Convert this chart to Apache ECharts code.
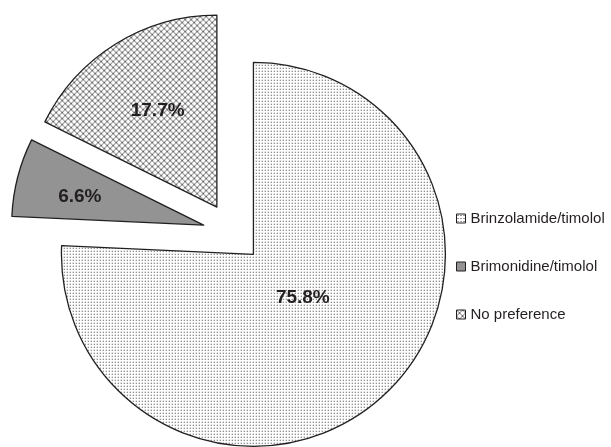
<!DOCTYPE html>
<html><head><meta charset="utf-8">
<script src="https://cdn.jsdelivr.net/npm/echarts@6/dist/echarts.min.js"></script>
<style>html,body{margin:0;padding:0;background:#fff}#c{width:611px;height:447px}</style>
</head><body><div id="c"></div>
<script>
const categories = ['Brinzolamide/timolol', 'Brimonidine/timolol', 'No preference'];
const values = [75.8, 6.6, 17.7];

function dotPattern() {
  const c = document.createElement('canvas'); c.width = 3; c.height = 3;
  const x = c.getContext('2d');
  x.fillStyle = '#fff'; x.fillRect(0,0,3,3);
  x.fillStyle = '#3a3a3a'; x.fillRect(1,1,1,1);
  return c;
}
function diamondPattern() {
  const n = 6;
  const c = document.createElement('canvas'); c.width = n; c.height = n;
  const x = c.getContext('2d');
  x.fillStyle = '#fff'; x.fillRect(0,0,n,n);
  x.fillStyle = '#6a6a6a';
  for (let i = 0; i < n; i++) { x.fillRect(i, i, 1, 1); x.fillRect(n-1-i, i, 1, 1); }
  return c;
}
const fills = [
  { image: dotPattern(), repeat: 'repeat' },
  '#939393',
  { image: diamondPattern(), repeat: 'repeat' }
];
const labelShift = [[-19, -28], [-28, -4], [-7, -12]];

const chart = echarts.init(document.getElementById('c'), null, {renderer: 'canvas'});
chart.setOption({
  animation: false,
  backgroundColor: '#fff',
  legend: {
    orient: 'vertical', left: 451, top: 206,
    itemWidth: 9, itemHeight: 9, itemGap: 33,
    icon: 'rect',
    textStyle: { fontFamily: 'Liberation Sans, Arial', fontSize: 15, color: '#231f20', padding: [0,0,0,0] },
    itemStyle: { borderColor: '#231f20', borderWidth: 1 },
    selectedMode: false,
    data: categories
  },
  series: [{
    type: 'pie',
    center: [232.7, 232.6],
    radius: 192,
    startAngle: 90,
    clockwise: true,
    selectedMode: 'multiple',
    selectedOffset: 30,
    avoidLabelOverlap: false,
    emphasis: { disabled: true },
    itemStyle: { borderColor: '#231f20', borderWidth: 1.3 },
    label: {
      show: true, position: 'inside',
      formatter: p => p.value.toFixed(1) + '%',
      fontFamily: 'Liberation Sans, Arial', fontWeight: 'bold', fontSize: 19, color: '#231f20'
    },
    labelLayout: p => ({ dx: labelShift[p.dataIndex][0], dy: labelShift[p.dataIndex][1] }),
    labelLine: { show: false },
    data: categories.map((n, i) => ({
      name: n, value: values[i], selected: true,
      itemStyle: { color: fills[i] }
    }))
  }]
});
</script></body></html>
